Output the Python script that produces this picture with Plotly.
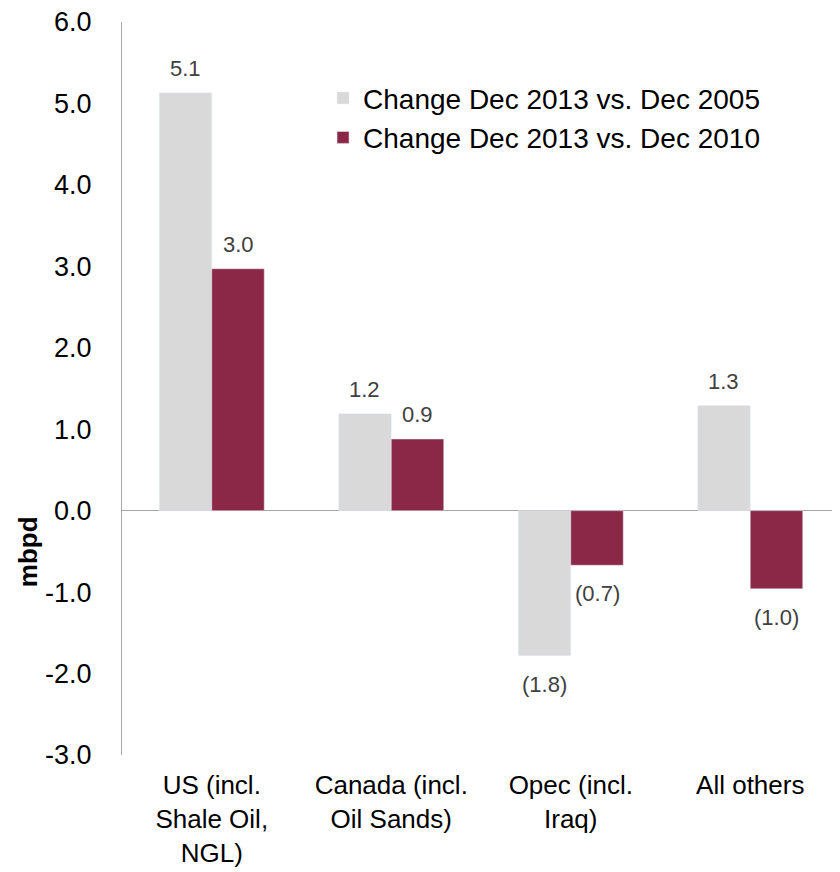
import plotly.graph_objects as go

categories = ["US (incl.<br>Shale Oil,<br>NGL)", "Canada (incl.<br>Oil Sands)", "Opec (incl.<br>Iraq)", "All others"]
series_names = ["Change Dec 2013 vs. Dec 2005", "Change Dec 2013 vs. Dec 2010"]
change_vs_2005 = [5.13, 1.19, -1.78, 1.29]
change_vs_2010 = [2.97, 0.88, -0.67, -0.96]
y_tick_vals = [-3, -2, -1, 0, 1, 2, 3, 4, 5, 6]
y_tick_text = ["-3.0", "-2.0", "-1.0", "0.0", "1.0", "2.0", "3.0", "4.0", "5.0", "6.0"]

GRAY = "#d9d9d9"
MAROON = "#8b2848"
FONT = "Liberation Sans, Arial, sans-serif"

fig = go.Figure()
fig.add_trace(go.Bar(x=categories, y=change_vs_2005, name=series_names[0], marker_color=GRAY))
fig.add_trace(go.Bar(x=categories, y=change_vs_2010, name=series_names[1], marker_color=MAROON))

def fmt(v):
    return f"{v:.1f}" if v >= 0 else f"({abs(v):.1f})"

annotations = []
for series, shift in ((change_vs_2005, -26.5), (change_vs_2010, 26.5)):
    for cat, v in zip(categories, series):
        annotations.append(dict(
            x=cat, y=v, xref="x", yref="y", text=fmt(v), showarrow=False,
            xshift=shift, yanchor="bottom" if v >= 0 else "top",
            yshift=10 if v >= 0 else -14,
            font=dict(family=FONT, size=22, color="#404040"),
        ))
annotations.append(dict(
    x=-0.131, y=0.278, xref="paper", yref="paper", xanchor="center", yanchor="middle",
    text="<b>mbpd</b>", showarrow=False,
    textangle=-90, font=dict(family=FONT, size=26, color="black"),
))

# the page body has an 8px margin, so the figure is sized/offset to compensate
fig.update_layout(
    width=832, height=864,
    margin=dict(l=114, r=0, t=14, b=117, autoexpand=False),
    plot_bgcolor="white", paper_bgcolor="white",
    barmode="group", bargap=0.415, bargroupgap=0,
    font=dict(family=FONT, color="black"),
    showlegend=True,
    legend=dict(x=0.28, y=0.93, xanchor="left", yanchor="top",
                font=dict(family=FONT, size=28, color="black"),
                bgcolor="rgba(0,0,0,0)", tracegroupgap=0),
    annotations=annotations,
)
fig.update_yaxes(range=[-3, 6], tickvals=y_tick_vals, ticktext=y_tick_text, automargin=False,
                 showgrid=False, zeroline=True, zerolinecolor="#a6a6a6", zerolinewidth=1,
                 showline=True, linecolor="#a6a6a6", linewidth=1, ticks="",
                 ticklabeloverflow="allow",
                 ticklabelstandoff=24, tickfont=dict(family=FONT, size=27, color="black"))
fig.update_xaxes(showgrid=False, showline=False, ticks="", ticklabelstandoff=12, automargin=False,
                 tickfont=dict(family=FONT, size=26, color="black"))

fig.write_html("out.html")
